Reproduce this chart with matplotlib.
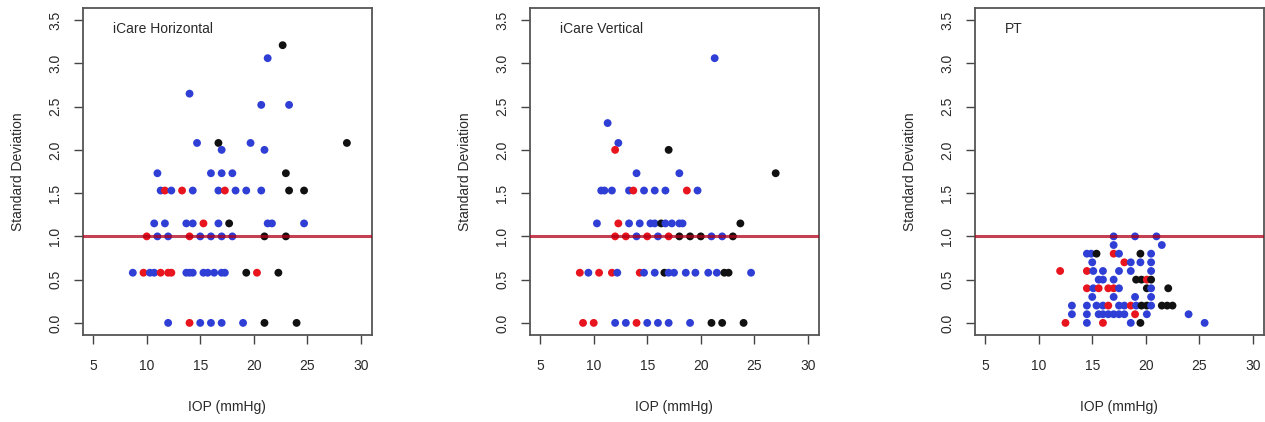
import matplotlib
matplotlib.use("Agg")
import matplotlib.pyplot as plt

plt.rcParams["font.family"] = ["Liberation Sans", "DejaVu Sans"]

# ---- data: mean IOP (mmHg), SD, group colour code (b=blue, r=red, k=black)
h_iop = [22.7, 21.3, 14.0, 20.7, 23.3, 14.7, 16.7, 19.7, 28.7, 17.0, 21.0,
         11.0, 16.0, 17.0, 18.0, 23.0,
         11.3, 11.7, 12.3, 13.3, 14.3, 16.7, 17.3, 18.3, 19.3, 20.7, 23.3, 24.7,
         10.7, 11.7, 13.7, 14.3, 15.3, 16.7, 17.7, 21.3, 21.7, 24.7,
         10.0, 11.0, 12.0, 14.0, 15.0, 16.0, 17.0, 18.0, 21.0, 23.0,
         8.7, 9.7, 10.3, 10.7, 11.3, 12.0, 12.3, 13.7, 14.0, 14.3, 15.3, 15.7,
         16.3, 17.0, 17.3, 19.3, 20.3, 22.3,
         12.0, 14.0, 15.0, 16.0, 17.0, 19.0, 21.0, 24.0]
h_sd = [3.21, 3.06, 2.65, 2.52, 2.52, 2.08, 2.08, 2.08, 2.08, 2.0, 2.0,
        1.73, 1.73, 1.73, 1.73, 1.73,
        1.53, 1.53, 1.53, 1.53, 1.53, 1.53, 1.53, 1.53, 1.53, 1.53, 1.53, 1.53,
        1.15, 1.15, 1.15, 1.15, 1.15, 1.15, 1.15, 1.15, 1.15, 1.15,
        1.0, 1.0, 1.0, 1.0, 1.0, 1.0, 1.0, 1.0, 1.0, 1.0,
        0.58, 0.58, 0.58, 0.58, 0.58, 0.58, 0.58, 0.58, 0.58, 0.58, 0.58, 0.58,
        0.58, 0.58, 0.58, 0.58, 0.58, 0.58,
        0.0, 0.0, 0.0, 0.0, 0.0, 0.0, 0.0, 0.0]
h_grp = list("kbbbbbkbkbb" "bbbbk" "brbrbbrbbbkk" "bbbbrbkbbb" "rbbrbbbbkk"
             "brbbrrrbbbbbbbbkrk" "brbbbbkk")

v_iop = [21.3, 11.3, 12.3, 12.0, 17.0, 14.0, 18.0, 27.0,
         10.7, 11.0, 11.7, 13.3, 13.7, 14.7, 15.7, 16.7, 18.7, 19.7,
         10.3, 12.3, 13.3, 14.3, 15.3, 15.7, 16.3, 16.7, 17.3, 18.0, 18.3, 23.7,
         12.0, 13.0, 14.0, 15.0, 16.0, 17.0, 18.0, 19.0, 20.0, 21.0, 22.0, 23.0,
         8.7, 9.5, 10.5, 11.7, 12.2, 14.3, 14.7, 15.7, 16.6, 17.0, 17.5, 18.6,
         19.5, 20.7, 21.5, 22.2, 22.6, 24.7,
         9.0, 10.0, 12.0, 13.0, 14.0, 15.0, 16.0, 17.0, 19.0, 21.0, 22.0, 24.0]
v_sd = [3.06, 2.31, 2.08, 2.0, 2.0, 1.73, 1.73, 1.73,
        1.53, 1.53, 1.53, 1.53, 1.53, 1.53, 1.53, 1.53, 1.53, 1.53,
        1.15, 1.15, 1.15, 1.15, 1.15, 1.15, 1.15, 1.15, 1.15, 1.15, 1.15, 1.15,
        1.0, 1.0, 1.0, 1.0, 1.0, 1.0, 1.0, 1.0, 1.0, 1.0, 1.0, 1.0,
        0.58, 0.58, 0.58, 0.58, 0.58, 0.58, 0.58, 0.58, 0.58, 0.58, 0.58, 0.58,
        0.58, 0.58, 0.58, 0.58, 0.58, 0.58,
        0.0, 0.0, 0.0, 0.0, 0.0, 0.0, 0.0, 0.0, 0.0, 0.0, 0.0, 0.0]
v_grp = list("bbbrkbbk" "bbbbrbbbrb" "brbbbbkbbbbk" "rrbrbrkkkbbk"
             "rbrrbrbbkbbbbbbkkb" "rrbbrbbbbkkk")

p_iop = [17.0, 19.0, 21.0,
         17.0, 21.5,
         14.5, 14.9, 15.4, 17.0, 17.5, 19.5, 20.5,
         15.0, 18.0, 18.6, 19.5, 20.5,
         12.0, 14.5, 15.1, 16.0, 17.5, 18.6, 20.5,
         15.6, 16.0, 17.0, 19.1, 19.6, 20.1, 20.5,
         14.5, 15.1, 15.6, 16.5, 17.0, 17.5, 20.1, 20.5, 22.1,
         15.0, 17.0, 19.0, 20.5,
         13.1, 14.5, 15.4, 16.0, 16.5, 17.5, 18.0, 18.6, 19.1, 19.6, 20.1,
         20.5, 21.5, 22.0, 22.5,
         13.1, 14.5, 15.6, 16.0, 16.5, 17.0, 17.5, 18.0, 19.0, 20.1, 24.0,
         12.5, 14.5, 16.0, 18.6, 19.5, 25.5]
p_sd = [1.0, 1.0, 1.0,
        0.9, 0.9,
        0.8, 0.8, 0.8, 0.8, 0.8, 0.8, 0.8,
        0.7, 0.7, 0.7, 0.7, 0.7,
        0.6, 0.6, 0.6, 0.6, 0.6, 0.6, 0.6,
        0.5, 0.5, 0.5, 0.5, 0.5, 0.5, 0.5,
        0.4, 0.4, 0.4, 0.4, 0.4, 0.4, 0.4, 0.4, 0.4,
        0.3, 0.3, 0.3, 0.3,
        0.2, 0.2, 0.2, 0.2, 0.2, 0.2, 0.2, 0.2, 0.2, 0.2, 0.2,
        0.2, 0.2, 0.2, 0.2,
        0.1, 0.1, 0.1, 0.1, 0.1, 0.1, 0.1, 0.1, 0.1, 0.1, 0.1,
        0.0, 0.0, 0.0, 0.0, 0.0, 0.0]
p_grp = list("bbb" "bb" "bbkrbkb" "brbbb" "rrbbbbb" "bbbkkrk" "rbrrrbkbk"
             "bbbb" "bbbbrbbrbkkbkkk" "bbbbbbbbrbb" "rbrbkb")

panels = [("iCare Horizontal", h_iop, h_sd, h_grp),
          ("iCare Vertical", v_iop, v_sd, v_grp),
          ("PT", p_iop, p_sd, p_grp)]

x_ticks = [5, 10, 15, 20, 25, 30]
y_ticks = [0.0, 0.5, 1.0, 1.5, 2.0, 2.5, 3.0, 3.5]
cutoff = 1.0

colour = {"b": "#2f3fd6", "r": "#e8141e", "k": "#111111"}
txt = "#2a2a2a"

W, H = 1265, 422
fig = plt.figure(figsize=(W / 100, H / 100), dpi=100)
lefts = [82.5, 529.5, 974.5]

for left, (name, iop, sd, grp) in zip(lefts, panels):
    ax = fig.add_axes([left / W, (H - 335) / H, 289 / W, 327 / H])
    ax.scatter(iop, sd, s=32, c=[colour[g] for g in grp], linewidths=0,
               zorder=2)
    ax.axhline(cutoff, color="#b00018", alpha=0.75, lw=2.2, zorder=3)

    ax.set_xlim(4, 31)
    ax.set_ylim(-0.14, 3.64)
    ax.set_xticks(x_ticks)
    ax.set_yticks(y_ticks)
    ax.set_yticklabels([f"{t:.1f}" for t in y_ticks], rotation=90,
                       va="center")
    ax.tick_params(axis="both", length=6.5, width=1.0, color="#444444",
                   labelsize=10, labelcolor=txt)
    ax.tick_params(axis="x", pad=11)
    ax.tick_params(axis="y", pad=8)
    for s in ax.spines.values():
        s.set_color("#555555")
        s.set_linewidth(1.3)

    ax.set_xlabel("IOP (mmHg)", fontsize=10, color=txt)
    ax.xaxis.set_label_coords(0.5, (335 - 407) / 327)
    ax.xaxis.label.set_va("center")
    ax.set_ylabel("Standard Deviation", fontsize=10, color=txt)
    ax.yaxis.set_label_coords((18 - 82.5) / 289, 0.5)
    ax.yaxis.label.set_va("center")

    ax.text(0.105, 0.936, name, transform=ax.transAxes, fontsize=10,
            color=txt, ha="left", va="center")

fig.savefig("out.png", dpi=100)
